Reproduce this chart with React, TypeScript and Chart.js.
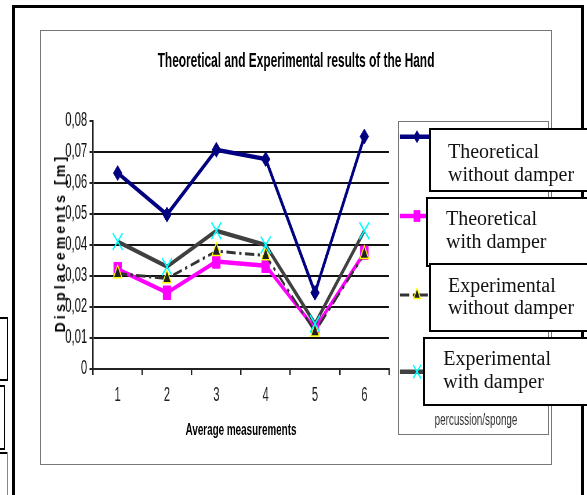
import React, { useEffect, useRef } from 'react';
import { Chart, registerables } from 'chart.js';
import { drawPoint } from 'chart.js/helpers';

Chart.register(...registerables);

// ---- data ----
const chartTitle = 'Theoretical and Experimental results of the Hand';
const xAxisTitle = 'Average measurements';
const yAxisTitle = 'Displacements [m]';
const legendNote = 'percussion/sponge';
const categories = ['1', '2', '3', '4', '5', '6'];
const seriesNames = [
  'Theoretical without damper',
  'Theoretical with damper',
  'Experimental without damper',
  'Experimental with damper',
];
const theoreticalWithout = [0.0632, 0.0498, 0.0707, 0.0677, 0.0246, 0.0750];
const theoreticalWith = [0.0322, 0.0246, 0.0347, 0.0333, 0.0130, 0.0375];
const experimentalWithout = [0.0308, 0.0292, 0.0380, 0.0366, 0.0120, 0.0370];
const experimentalWith = [0.0411, 0.0330, 0.0446, 0.0400, 0.0146, 0.0446];
const yTickLabels = ['0', '0,01', '0,02', '0,03', '0,04', '0,05', '0,06', '0,07', '0,08'];

// ---- layout helpers ----
const CW = 883;
const CH = 495;
const S = 512 / CW; // horizontal squash of the scanned figure
const ux = (x: number) => (x - 40) / S;
const FONT = '"Liberation Sans", Arial, sans-serif';
const SERIF = '"Liberation Serif", "Times New Roman", serif';

const legendYs = [136.7, 216, 295, 371.7];

const legendPlugin = {
  id: 'sideLegend',
  afterDraw(chart: any) {
    const ctx = chart.ctx as CanvasRenderingContext2D;
    chart.data.datasets.forEach((ds: any, i: number) => {
      const y = legendYs[i];
      ctx.save();
      ctx.strokeStyle = ds.borderColor;
      ctx.lineWidth = ds.borderWidth;
      ctx.setLineDash(ds.borderDash || []);
      ctx.beginPath();
      ctx.moveTo(ux(400), y);
      ctx.lineTo(ux(436), y);
      ctx.stroke();
      ctx.setLineDash([]);
      ctx.fillStyle = ds.pointBackgroundColor;
      ctx.strokeStyle = ds.pointBorderColor;
      ctx.lineWidth = ds.pointBorderWidth;
      drawPoint(
        ctx,
        {
          pointStyle: ds.pointStyle,
          radius: ds.pointRadius * 0.8,
          rotation: 0,
          borderWidth: ds.pointBorderWidth,
        } as any,
        ux(417),
        y
      );
      ctx.restore();
    });
    ctx.save();
    ctx.font = `17px ${FONT}`;
    ctx.fillStyle = '#333';
    ctx.textAlign = 'center';
    ctx.textBaseline = 'middle';
    ctx.fillText(legendNote, ux(476), 420);
    ctx.restore();
  },
};

function NoteBox(props: {
  left: number;
  top: number;
  height: number;
  textLeft: number;
  textTop: number;
  lineHeight: number;
  text: string;
}) {
  const { left, top, height, textLeft, textTop, lineHeight, text } = props;
  const cut = text.indexOf(' ');
  const l1 = text.slice(0, cut);
  const l2 = text.slice(cut + 1);
  return (
    <div
      style={{
        position: 'absolute',
        left,
        top,
        width: 600 - left,
        height,
        border: '2px solid #000',
        background: '#fff',
        boxSizing: 'border-box',
      }}
    >
      <div
        style={{
          position: 'absolute',
          left: textLeft - left - 2,
          top: textTop - top - 2,
          font: `20px ${SERIF}`,
          lineHeight: `${lineHeight}px`,
          color: '#111',
          whiteSpace: 'nowrap',
        }}
      >
        {l1}
        <br />
        {l2}
      </div>
    </div>
  );
}

export default function App() {
  const ref = useRef<HTMLCanvasElement>(null);

  useEffect(() => {
    const canvas = ref.current;
    if (!canvas) return;
    const chart = new Chart(canvas, {
      type: 'line',
      data: {
        labels: categories,
        datasets: [
          {
            label: seriesNames[0],
            data: theoreticalWithout,
            borderColor: '#000080',
            backgroundColor: '#000080',
            borderWidth: 4.5,
            pointStyle: 'rectRot',
            pointRadius: 7.5,
            pointBorderWidth: 1,
            pointBackgroundColor: '#000080',
            pointBorderColor: '#000080',
            order: 4,
          } as any,
          {
            label: seriesNames[1],
            data: theoreticalWith,
            borderColor: '#FF00FF',
            backgroundColor: '#FF00FF',
            borderWidth: 4.5,
            pointStyle: 'rect',
            pointRadius: 9.5,
            pointBorderWidth: 1,
            pointBackgroundColor: '#FF00FF',
            pointBorderColor: '#FF00FF',
            order: 3,
          },
          {
            label: seriesNames[2],
            data: experimentalWithout,
            borderColor: '#333333',
            backgroundColor: '#222222',
            borderWidth: 3,
            borderDash: [16, 6, 4, 6],
            pointStyle: 'triangle',
            pointRadius: 8.5,
            pointBorderWidth: 1.5,
            pointBackgroundColor: '#222222',
            pointBorderColor: '#FFFF00',
            order: 2,
          },
          {
            label: seriesNames[3],
            data: experimentalWith,
            borderColor: '#404040',
            backgroundColor: '#00FFFF',
            borderWidth: 4.5,
            pointStyle: 'crossRot',
            pointRadius: 12,
            pointBorderWidth: 2,
            pointBackgroundColor: '#00FFFF',
            pointBorderColor: '#00FFFF',
            order: 1,
          },
        ],
      },
      options: {
        responsive: false,
        animation: false,
        devicePixelRatio: 1,
        events: [],
        layout: { padding: { left: 0, right: 0, top: 48.7, bottom: 30 } },
        plugins: {
          legend: { display: false },
          tooltip: { enabled: false },
          title: {
            display: true,
            text: chartTitle,
            color: '#000',
            font: { family: FONT, size: 20.5, weight: 'bold' },
            padding: { top: 0, bottom: 47.7 },
          },
        },
        scales: {
          x: {
            type: 'category',
            offset: true,
            grid: {
              offset: true,
              drawOnChartArea: false,
              tickLength: 6,
              tickColor: '#222',
              color: '#222',
              lineWidth: 2.5,
            },
            border: { color: '#222', width: 2 },
            ticks: {
              padding: 9,
              maxRotation: 0,
              color: '#222',
              font: { family: FONT, size: 19.5 },
            },
            title: {
              display: true,
              text: xAxisTitle,
              color: '#000',
              font: { family: FONT, size: 17, weight: 'bold' },
              padding: { top: 0, bottom: 24.8 },
            },
            afterFit: (sc: any) => {
              sc.height = 96;
            },
          },
          y: {
            type: 'linear',
            min: 0,
            max: 0.08,
            ticks: {
              stepSize: 0.01,
              padding: 4,
              color: '#111',
              font: { family: FONT, size: 19.5 },
              callback: (v: any) => yTickLabels[Math.round(Number(v) * 100)],
            },
            grid: {
              color: (c: any) =>
                c.tick && Math.round(c.tick.value * 100) === 8 ? 'rgba(0,0,0,0)' : '#111',
              tickColor: '#222',
              tickLength: 6,
              lineWidth: 2,
            },
            border: { color: '#222', width: 2.5 },
            afterFit: (sc: any) => {
              sc.width = ux(93);
            },
          },
          side: {
            type: 'linear',
            position: 'right',
            display: true,
            ticks: { display: false },
            grid: { display: false },
            border: { display: false },
            afterFit: (sc: any) => {
              sc.width = CW - ux(389);
            },
          },
        },
      } as any,
      plugins: [legendPlugin],
    });
    return () => chart.destroy();
  }, []);

  const line = (l: number, t: number, w: number, h: number, c = '#000') => (
    <div style={{ position: 'absolute', left: l, top: t, width: w, height: h, background: c }} />
  );

  return (
    <div
      style={{
        position: 'fixed',
        left: 0,
        top: 0,
        width: 587,
        height: 495,
        background: '#fff',
        overflow: 'hidden',
      }}
    >
      {/* fragments of neighbouring page elements */}
      {line(0, 317, 8, 1.5)}
      {line(6.5, 317, 1.5, 63)}
      {line(0, 379, 8, 1.5)}
      {line(0, 385, 5, 1.5)}
      {line(3.5, 385, 1.5, 64)}
      {line(0, 448, 5, 1.5)}
      {line(0, 452, 8, 1.5)}
      {line(6.5, 452, 1.5, 43, '#888')}
      {/* outer frame */}
      {line(12, 5, 572, 3)}
      {line(12, 5, 3, 490)}
      {line(581, 5, 3, 490)}
      {/* chart area box */}
      <div
        style={{
          position: 'absolute',
          left: 40,
          top: 30,
          width: 512,
          height: 435,
          border: '1px solid #777',
          boxSizing: 'border-box',
          background: '#fff',
        }}
      />
      {/* legend box */}
      <div
        style={{
          position: 'absolute',
          left: 398,
          top: 121,
          width: 151,
          height: 314,
          border: '1px solid #777',
          boxSizing: 'border-box',
        }}
      />
      <div
        style={{
          position: 'absolute',
          left: 40,
          top: 0,
          width: CW,
          height: CH,
          transform: `scaleX(${S})`,
          transformOrigin: '0 0',
        }}
      >
        <canvas ref={ref} width={CW} height={CH} />
      </div>
      <div
        style={{
          position: 'absolute',
          left: 59.5,
          top: 242.5,
          transform: 'translate(-50%, -50%) rotate(-90deg)',
          font: `bold 14px ${FONT}`,
          letterSpacing: '3.2px',
          lineHeight: 1,
          whiteSpace: 'nowrap',
          color: '#000',
        }}
      >
        {yAxisTitle}
      </div>
      <NoteBox left={429} top={128} height={64} textLeft={448} textTop={140.3} lineHeight={23} text={seriesNames[0]} />
      <NoteBox left={426} top={197} height={70} textLeft={446} textTop={207} lineHeight={22.5} text={seriesNames[1]} />
      <NoteBox left={429} top={263} height={69} textLeft={448} textTop={273.7} lineHeight={22.5} text={seriesNames[2]} />
      <NoteBox left={423} top={337} height={69} textLeft={443.3} textTop={347} lineHeight={22.5} text={seriesNames[3]} />
    </div>
  );
}
